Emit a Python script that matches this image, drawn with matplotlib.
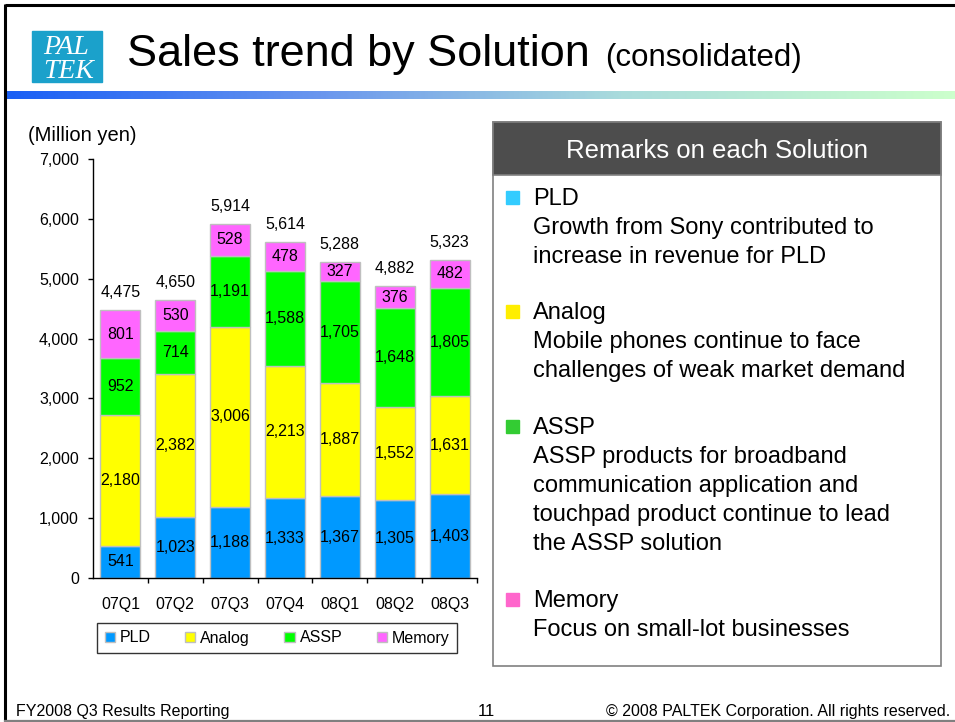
import numpy as np
import matplotlib
matplotlib.use('Agg')
import matplotlib.pyplot as plt
from matplotlib.patches import Rectangle
from matplotlib.colors import LinearSegmentedColormap

plt.rcParams['font.family'] = ['Liberation Sans', 'DejaVu Sans']

# ---------------- data ----------------
quarters = ['07Q1', '07Q2', '07Q3', '07Q4', '08Q1', '08Q2', '08Q3']
pld = [541, 1023, 1188, 1333, 1367, 1305, 1403]
analog = [2180, 2382, 3006, 2213, 1887, 1552, 1631]
assp = [952, 714, 1191, 1588, 1705, 1648, 1805]
memory = [801, 530, 528, 478, 327, 376, 482]
totals = [4475, 4650, 5914, 5614, 5288, 4882, 5323]

series_names = ['PLD', 'Analog', 'ASSP', 'Memory']
bar_colors = ['#0099FF', '#FFFF00', '#00FF00', '#FF66FF']
bullet_colors = ['#33CCFF', '#FFEE00', '#33CC33', '#FF66CC']

remarks = [
    ['Growth from Sony contributed to', 'increase in revenue for PLD'],
    ['Mobile phones continue to face', 'challenges of weak market demand'],
    ['ASSP products for broadband', 'communication application and',
     'touchpad product continue to lead', 'the ASSP solution'],
    ['Focus on small-lot businesses'],
]

W, H = 955, 722
fig = plt.figure(figsize=(W / 100, H / 100), dpi=100)
fig.patch.set_facecolor('white')

# background layer in pixel coords
bg = fig.add_axes([0, 0, 1, 1])
bg.axis('off')

# gradient band under the title
cmap = LinearSegmentedColormap.from_list(
    'band', [(0, '#1A5FF5'), (0.33, '#6A96EE'), (0.65, '#AADCDC'), (1, '#CCFFCC')])
bg.imshow(np.linspace(0, 1, 400).reshape(1, -1), cmap=cmap, aspect='auto',
          extent=(5, W, 99, 91), zorder=1)
bg.set_xlim(0, W)
bg.set_ylim(H, 0)

# slide frame
bg.plot([5, W], [5, 5], color='black', lw=2.2, zorder=5, solid_capstyle='butt')
bg.plot([5, 5], [4, 721], color='black', lw=2.2, zorder=5, solid_capstyle='butt')
bg.plot([5, W], [720.5, 720.5], color='#808080', lw=1.6, zorder=5)

# logo
bg.add_patch(Rectangle((32, 31), 70, 51, color='#1BA1CB', zorder=2))
bg.text(43, 54, 'PAL', fontsize=20, color='white', style='italic',
        family='Liberation Serif', va='baseline', ha='left', zorder=3)
bg.text(43, 78, 'TEK', fontsize=20, color='white', style='italic',
        family='Liberation Serif', va='baseline', ha='left', zorder=3)

# title
bg.text(127, 66, 'Sales trend by Solution', fontsize=32.4, va='baseline', ha='left')
bg.text(605, 66, '(consolidated)', fontsize=22.5, va='baseline', ha='left')

# unit label
bg.text(28, 141, '(Million yen)', fontsize=14.5, va='baseline', ha='left')

# remarks box
bg.add_patch(Rectangle((493, 122), 448, 544, facecolor='white', edgecolor='#808080',
                       lw=1.2, zorder=2))
bg.add_patch(Rectangle((493, 122), 448, 53, facecolor='#4D4D4D', edgecolor='#808080',
                       lw=1.2, zorder=3))
bg.text(717, 148, 'Remarks on each Solution', fontsize=18.5, color='white',
        ha='center', va='center_baseline', zorder=4)

head_base = [205, 319, 434, 607]
for name, col, lines, yb in zip(series_names, bullet_colors, remarks, head_base):
    bg.add_patch(Rectangle((506, yb - 14), 13, 13, color=col, zorder=4))
    bg.text(533, yb, name, fontsize=17, va='baseline', ha='left', zorder=4)
    for k, line in enumerate(lines):
        bg.text(533, yb + 29 * (k + 1), line, fontsize=17, va='baseline',
                ha='left', zorder=4)

# footer
bg.text(16, 716, 'FY2008 Q3 Results Reporting', fontsize=11.5, va='baseline', ha='left')
bg.text(486, 716, '11', fontsize=12, va='baseline', ha='center')
bg.text(950, 716, '\u00a9 2008 PALTEK Corporation. All rights reserved.', fontsize=11.5,
        va='baseline', ha='right')

# ---------------- chart ----------------
ax = fig.add_axes([93 / W, 1 - 578 / H, (477 - 93) / W, (578 - 159) / H])
ax.patch.set_alpha(0)
x = np.arange(len(quarters))
bottom = np.zeros(len(quarters))
for name, vals, col in zip(series_names, [pld, analog, assp, memory], bar_colors):
    bars = ax.bar(x, vals, 0.73, bottom=bottom, color=col, edgecolor='#BFBFBF',
                  linewidth=1, label=name, zorder=2)
    ax.bar_label(bars, labels=[f'{v:,}' for v in vals], label_type='center',
                 fontsize=11.5)
    bottom += np.array(vals)
ax.bar_label(bars, labels=[f'{v:,}' for v in totals], padding=7, fontsize=11.5)

ax.set_xlim(-0.5, len(quarters) - 0.5)
ax.set_ylim(0, 7000)
ax.set_yticks(np.arange(0, 7001, 1000))
ax.set_yticklabels([f'{v:,}' for v in range(0, 7001, 1000)])
ax.set_xticks(x)
ax.set_xticklabels(quarters)
ax.set_xticks(np.arange(0.5, len(quarters), 1), minor=True)
ax.tick_params(axis='x', which='major', length=0, pad=13.5, labelsize=11.5)
ax.tick_params(axis='x', which='minor', length=3.6, width=1)
ax.tick_params(axis='y', length=3.6, width=1, pad=6.5, labelsize=11.5)
for s in ['top', 'right']:
    ax.spines[s].set_visible(False)
for s in ['left', 'bottom']:
    ax.spines[s].set_linewidth(1)

leg = ax.legend(loc='center', bbox_to_anchor=(277 / W, 1 - 638 / H),
                bbox_transform=fig.transFigure, ncol=4, fontsize=11.5,
                frameon=True, fancybox=False, edgecolor='black',
                handlelength=0.65, handleheight=0.65, handletextpad=0.3,
                columnspacing=2.15, borderpad=0.5, borderaxespad=0)
leg.get_frame().set_linewidth(1)
for h in leg.legend_handles:
    h.set_edgecolor('#BFBFBF')

fig.savefig('out.png', dpi=100)
